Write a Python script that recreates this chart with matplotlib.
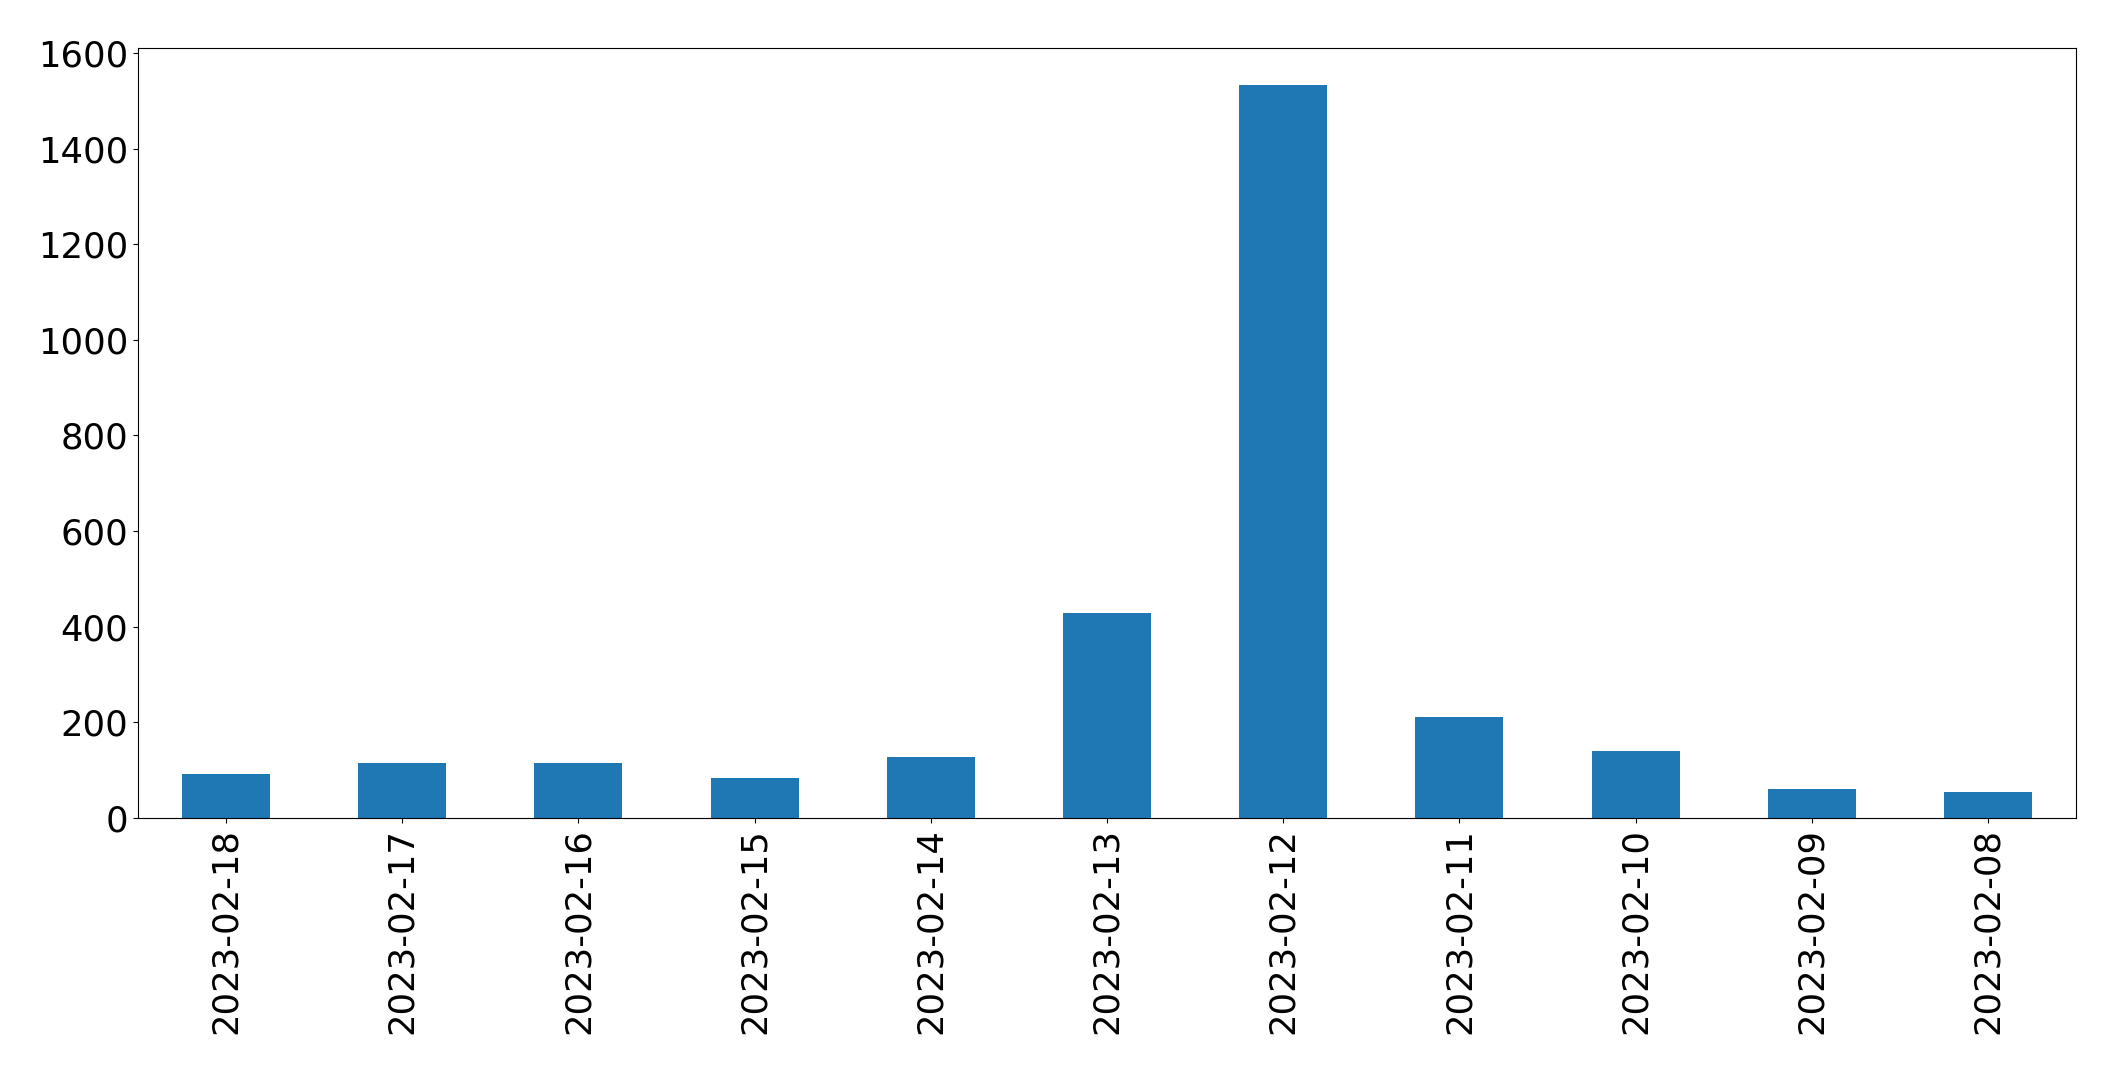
import matplotlib
matplotlib.use("Agg")
import matplotlib.pyplot as plt
import numpy as np


dates = ["2023-02-18", "2023-02-17", "2023-02-16", "2023-02-15", "2023-02-14",
         "2023-02-13", "2023-02-12", "2023-02-11", "2023-02-10", "2023-02-09",
         "2023-02-08"]
counts = [92, 115, 115, 84, 128, 428, 1533, 211, 140, 61, 54]


def plot_counts(dates, counts):
    fig = plt.figure(figsize=(21.15, 10.7), dpi=100)
    ax = fig.add_axes([0.0652, 0.2355, 0.9164, 0.7194])

    x = np.arange(len(dates))
    ax.bar(x, counts, width=0.5, color="#1f77b4")
    ax.set_xlim(-0.5, len(dates) - 0.5)

    ax.set_xticks(x)
    ax.set_xticklabels(dates, rotation=90)
    ax.tick_params(axis="both", labelsize=25.5)

    fig.savefig("out.png", dpi=100)


if __name__ == "__main__":
    plot_counts(dates, counts)
